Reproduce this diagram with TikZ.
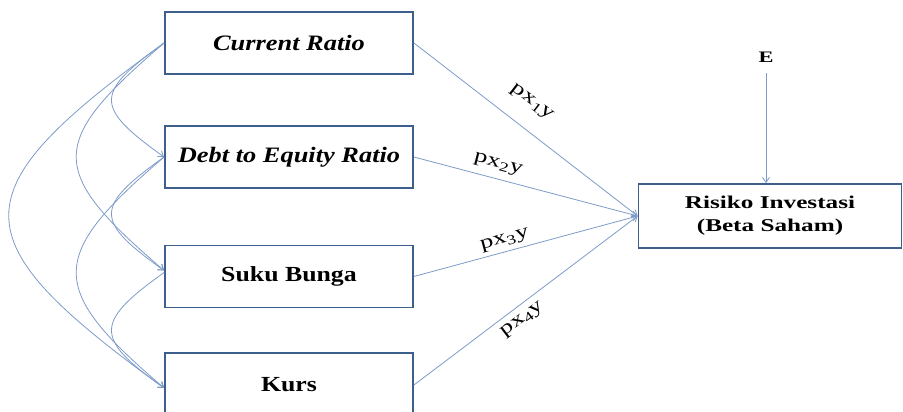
\documentclass[tikz,border=0pt]{standalone}
\usepackage{fontspec}
\setmainfont{Liberation Serif}
\newfontfamily\boxfont[FakeStretch=1.2]{Liberation Serif}
\newfontfamily\wideFont[FakeStretch=1.4]{Liberation Serif}
\usetikzlibrary{arrows.meta}
\definecolor{lnc}{RGB}{125,155,200}
\definecolor{bxc}{RGB}{60,95,140}
\begin{document}
\begin{tikzpicture}[x=1pt,y=-1pt,
  varbox/.style={draw=bxc, line width=1.8pt, minimum width=248pt, minimum height=62pt, inner sep=0pt, fill=white, text=black},
  conn/.style={draw=lnc, line width=0.8pt, -{Straight Barb[length=5pt,width=7pt]}},
  lbl/.style={font=\wideFont\fontsize{19}{21}\selectfont, inner sep=0pt, sloped}]
\path[use as bounding box] (0,0) rectangle (903,412);

\node[varbox, font=\boxfont\bfseries\itshape\fontsize{22}{24}\selectfont] (cr) at (289,43) {Current Ratio};
\node[varbox, font=\boxfont\bfseries\itshape\fontsize{22}{24}\selectfont] (der) at (289,157) {Debt to Equity Ratio};
\node[varbox, font=\boxfont\bfseries\fontsize{21.5}{24}\selectfont] (sb) at (289,276.5) {Suku Bunga};
\node[varbox, minimum height=64pt, font=\boxfont\bfseries\fontsize{21.5}{24}\selectfont] (kurs) at (289,385) {Kurs};
\node[varbox, minimum width=263pt, minimum height=64pt, align=center, font=\wideFont\bfseries\fontsize{18}{23}\selectfont] (risk) at (770,216) {Risiko Investasi\\(Beta Saham)};
\node[font=\wideFont\bfseries\fontsize{16}{18}\selectfont, inner sep=1pt] (e) at (766,57) {E};

% paths to dependent variable
\draw[conn] (cr.east) -- node[lbl, pos=0.46, above=18pt]{px\textsubscript{1}y} (risk.west);
\draw[conn] (der.east) -- node[lbl, pos=0.36, above=7pt]{px\textsubscript{2}y} (risk.west);
\draw[conn] (sb.east) -- node[lbl, pos=0.42, above=4pt]{px\textsubscript{3}y} (risk.west);
\draw[conn] (kurs.east) -- node[lbl, pos=0.45, below=7pt]{px\textsubscript{4}y} (risk.west);
\draw[conn, shorten <=10pt] (e.south) -- ([xshift=-4pt]risk.north);

% correlation curves
\draw[conn] (cr.west) .. controls +(-70,50) and +(-70,-50) .. (der.west);
\draw[conn] (cr.west) .. controls +(-117,100) and +(-117,-100) .. ([yshift=6pt]sb.west);
\draw[conn] (cr.west) .. controls +(-207,150) and +(-207,-150) .. ([yshift=-3pt]kurs.west);
\draw[conn] (der.west) .. controls +(-70,50) and +(-70,-50) .. ([yshift=6pt]sb.west);
\draw[conn] (der.west) .. controls +(-117,100) and +(-117,-100) .. ([yshift=-3pt]kurs.west);
\draw[conn] ([yshift=4pt]sb.west) .. controls +(-70,50) and +(-70,-50) .. ([yshift=-3pt]kurs.west);
\end{tikzpicture}
\end{document}
